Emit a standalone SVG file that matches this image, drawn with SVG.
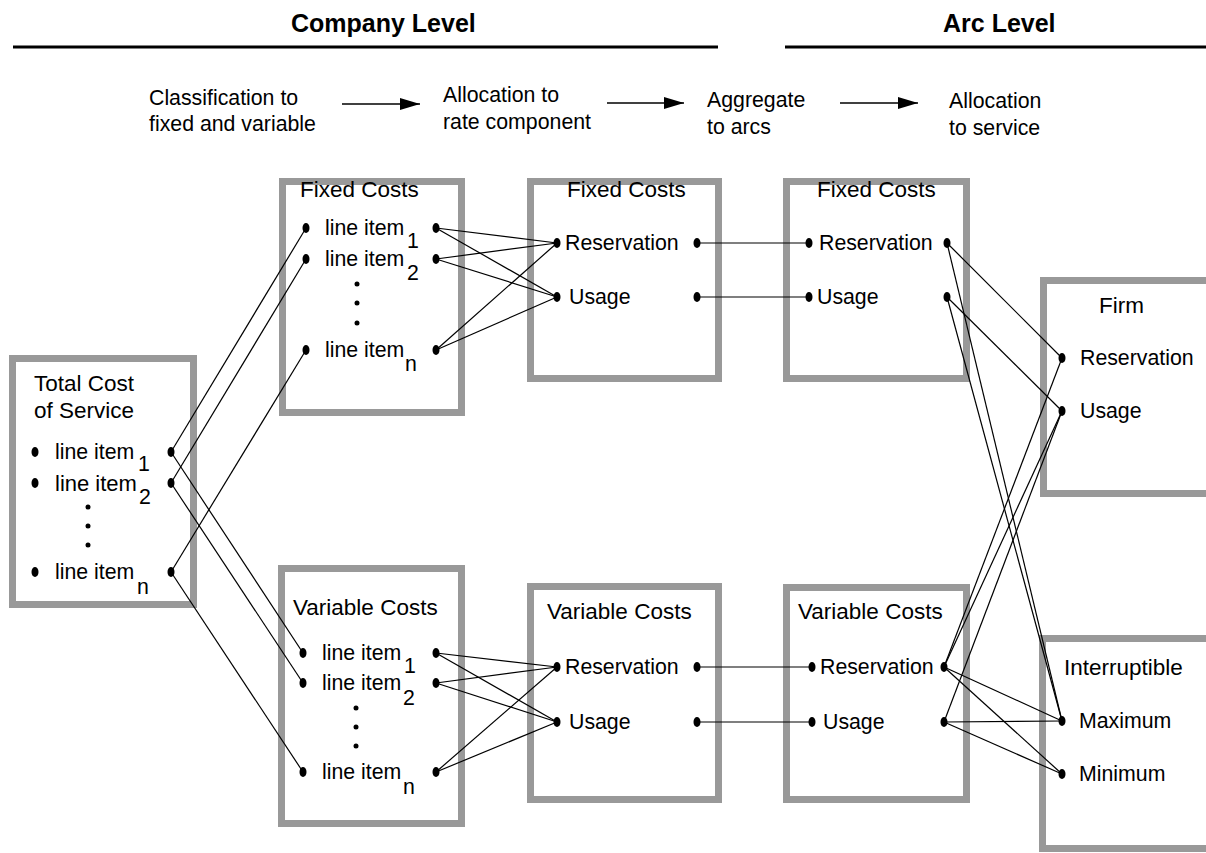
<svg xmlns="http://www.w3.org/2000/svg" width="1206" height="853" viewBox="0 0 1206 853">
<defs>
<style>
.bg{fill:#fff}
.box{fill:#fff;stroke:#999;stroke-width:7}
.t{font-family:"Liberation Sans",Arial,Helvetica,sans-serif;font-size:21.3px;fill:#000}
.ti{font-family:"Liberation Sans",Arial,Helvetica,sans-serif;font-size:22.5px;fill:#000}
.h{font-family:"Liberation Sans",Arial,Helvetica,sans-serif;font-size:25px;font-weight:bold;fill:#000}
.rule{stroke:#000;stroke-width:3}
.c{stroke:#000;stroke-width:1.2;fill:none}
.ar{stroke:#000;stroke-width:1.5;fill:none}
.d{fill:#000}
</style>
<marker id="ah" viewBox="0 0 20 12" refX="20" refY="6" markerWidth="20" markerHeight="12" markerUnits="userSpaceOnUse" orient="auto">
<path d="M0,0 L20,6 L0,12 Z" fill="#000"/>
</marker>
</defs>
<rect class="bg" x="0" y="0" width="1206" height="853"/>

<g id="header">
<text class="h" x="291" y="32">Company Level</text>
<text class="h" x="943" y="32">Arc Level</text>
<line class="rule" x1="13" y1="47" x2="718" y2="47"/>
<line class="rule" x1="785" y1="47" x2="1206" y2="47"/>
</g>

<g id="steps">
<text class="t" x="149" y="105">Classification to</text>
<text class="t" x="149" y="131">fixed and variable</text>
<text class="t" x="443" y="102">Allocation to</text>
<text class="t" x="443" y="129">rate component</text>
<text class="t" x="707" y="107">Aggregate</text>
<text class="t" x="707" y="134">to arcs</text>
<text class="t" x="949" y="108">Allocation</text>
<text class="t" x="949" y="135">to service</text>
<line class="ar" x1="342" y1="104" x2="420" y2="104" marker-end="url(#ah)"/>
<line class="ar" x1="607" y1="103" x2="684" y2="103" marker-end="url(#ah)"/>
<line class="ar" x1="840" y1="103" x2="918" y2="103" marker-end="url(#ah)"/>
</g>

<g id="total-cost">
<rect class="box" x="12.5" y="358.5" width="181" height="246"/>
<text class="ti" x="34" y="391">Total Cost</text>
<text class="ti" x="34" y="418">of Service</text>
<ellipse class="d" cx="35" cy="452" rx="3.5" ry="5"/>
<ellipse class="d" cx="35" cy="483" rx="3.5" ry="5"/>
<ellipse class="d" cx="35" cy="572" rx="3.5" ry="5"/>
<text class="t" x="55" y="459">line item</text><text class="t" x="138" y="471">1</text>
<text class="t" x="55" y="491" style="font-size:22px">line item</text><text class="t" x="139" y="504">2</text>
<text class="t" x="55" y="579">line item</text><text class="t" x="137" y="594">n</text>
<circle class="d" cx="88" cy="507" r="2.5"/>
<circle class="d" cx="88" cy="526" r="2.5"/>
<circle class="d" cx="88" cy="545" r="2.5"/>
<ellipse class="d" cx="171" cy="452" rx="3.5" ry="5"/>
<ellipse class="d" cx="171" cy="483" rx="3.5" ry="5"/>
<ellipse class="d" cx="171" cy="572" rx="3.5" ry="5"/>
</g>

<g id="fixed-company">
<rect class="box" x="282.5" y="181.5" width="179" height="231"/>
<text class="ti" x="300" y="197">Fixed Costs</text>
<ellipse class="d" cx="306" cy="228" rx="3.5" ry="5"/>
<ellipse class="d" cx="306" cy="259" rx="3.5" ry="5"/>
<ellipse class="d" cx="306" cy="350" rx="3.5" ry="5"/>
<text class="t" x="325" y="235">line item</text><text class="t" x="407" y="248">1</text>
<text class="t" x="325" y="266">line item</text><text class="t" x="407" y="280">2</text>
<text class="t" x="325" y="357">line item</text><text class="t" x="405" y="371">n</text>
<circle class="d" cx="357" cy="284" r="2.5"/>
<circle class="d" cx="357" cy="303" r="2.5"/>
<circle class="d" cx="357" cy="323" r="2.5"/>
<ellipse class="d" cx="436" cy="228" rx="3.5" ry="5"/>
<ellipse class="d" cx="436" cy="259" rx="3.5" ry="5"/>
<ellipse class="d" cx="436" cy="350" rx="3.5" ry="5"/>
</g>

<g id="variable-company">
<rect class="box" x="281.5" y="568.5" width="180" height="255"/>
<text class="ti" x="293" y="615">Variable Costs</text>
<ellipse class="d" cx="303" cy="653" rx="3.5" ry="5"/>
<ellipse class="d" cx="303" cy="683" rx="3.5" ry="5"/>
<ellipse class="d" cx="303" cy="772" rx="3.5" ry="5"/>
<text class="t" x="322" y="660">line item</text><text class="t" x="404" y="673">1</text>
<text class="t" x="322" y="690">line item</text><text class="t" x="403" y="705">2</text>
<text class="t" x="322" y="779">line item</text><text class="t" x="403" y="794">n</text>
<circle class="d" cx="356" cy="708" r="2.5"/>
<circle class="d" cx="356" cy="727" r="2.5"/>
<circle class="d" cx="356" cy="746" r="2.5"/>
<ellipse class="d" cx="436" cy="653" rx="3.5" ry="5"/>
<ellipse class="d" cx="436" cy="683" rx="3.5" ry="5"/>
<ellipse class="d" cx="436" cy="772" rx="3.5" ry="5"/>
</g>

<g id="fixed-rate">
<rect class="box" x="530.5" y="181.5" width="188" height="197"/>
<text class="ti" x="567" y="197">Fixed Costs</text>
<ellipse class="d" cx="557" cy="243" rx="3.5" ry="5"/>
<ellipse class="d" cx="557" cy="297" rx="3.5" ry="5"/>
<text class="t" x="565" y="250">Reservation</text>
<text class="t" x="569" y="304">Usage</text>
<ellipse class="d" cx="697" cy="243" rx="3.5" ry="5"/>
<ellipse class="d" cx="697" cy="297" rx="3.5" ry="5"/>
</g>

<g id="variable-rate">
<rect class="box" x="530.5" y="586.5" width="188" height="213"/>
<text class="ti" x="547" y="619">Variable Costs</text>
<ellipse class="d" cx="557" cy="667" rx="3.5" ry="5"/>
<ellipse class="d" cx="557" cy="722" rx="3.5" ry="5"/>
<text class="t" x="565" y="674">Reservation</text>
<text class="t" x="569" y="729">Usage</text>
<ellipse class="d" cx="697" cy="667" rx="3.5" ry="5"/>
<ellipse class="d" cx="697" cy="722" rx="3.5" ry="5"/>
</g>

<g id="fixed-arc">
<rect class="box" x="786.5" y="181.5" width="180" height="197"/>
<text class="ti" x="817" y="197">Fixed Costs</text>
<ellipse class="d" cx="809" cy="243" rx="3.5" ry="5"/>
<ellipse class="d" cx="809" cy="297" rx="3.5" ry="5"/>
<text class="t" x="819" y="250">Reservation</text>
<text class="t" x="817" y="304">Usage</text>
<ellipse class="d" cx="947" cy="243" rx="3.5" ry="5"/>
<ellipse class="d" cx="947" cy="297" rx="3.5" ry="5"/>
</g>

<g id="variable-arc">
<rect class="box" x="786.5" y="587.5" width="180" height="212"/>
<text class="ti" x="798" y="619">Variable Costs</text>
<ellipse class="d" cx="812" cy="667" rx="3.5" ry="5"/>
<ellipse class="d" cx="812" cy="722" rx="3.5" ry="5"/>
<text class="t" x="820" y="674">Reservation</text>
<text class="t" x="823" y="729">Usage</text>
<ellipse class="d" cx="944" cy="667" rx="3.5" ry="5"/>
<ellipse class="d" cx="944" cy="722" rx="3.5" ry="5"/>
</g>

<g id="firm">
<rect class="box" x="1043.5" y="280.5" width="200" height="213"/>
<text class="ti" x="1099" y="313">Firm</text>
<ellipse class="d" cx="1062" cy="358" rx="3.5" ry="5"/>
<ellipse class="d" cx="1062" cy="411" rx="3.5" ry="5"/>
<text class="t" x="1080" y="365">Reservation</text>
<text class="t" x="1080" y="418">Usage</text>
</g>

<g id="interruptible">
<rect class="box" x="1042.5" y="638.5" width="200" height="210"/>
<text class="ti" x="1064" y="675">Interruptible</text>
<ellipse class="d" cx="1062" cy="721" rx="3.5" ry="5"/>
<ellipse class="d" cx="1062" cy="774" rx="3.5" ry="5"/>
<text class="t" x="1079" y="728">Maximum</text>
<text class="t" x="1079" y="781">Minimum</text>
</g>

<g id="connectors">
<line class="c" x1="171" y1="452" x2="306" y2="228"/>
<line class="c" x1="171" y1="483" x2="306" y2="259"/>
<line class="c" x1="171" y1="572" x2="306" y2="350"/>
<line class="c" x1="171" y1="452" x2="303" y2="653"/>
<line class="c" x1="171" y1="483" x2="303" y2="683"/>
<line class="c" x1="171" y1="572" x2="303" y2="772"/>

<line class="c" x1="436" y1="228" x2="557" y2="243"/>
<line class="c" x1="436" y1="228" x2="557" y2="297"/>
<line class="c" x1="436" y1="259" x2="557" y2="243"/>
<line class="c" x1="436" y1="259" x2="557" y2="297"/>
<line class="c" x1="436" y1="350" x2="557" y2="243"/>
<line class="c" x1="436" y1="350" x2="557" y2="297"/>

<line class="c" x1="436" y1="653" x2="557" y2="667"/>
<line class="c" x1="436" y1="653" x2="557" y2="722"/>
<line class="c" x1="436" y1="683" x2="557" y2="667"/>
<line class="c" x1="436" y1="683" x2="557" y2="722"/>
<line class="c" x1="436" y1="772" x2="557" y2="667"/>
<line class="c" x1="436" y1="772" x2="557" y2="722"/>

<line class="c" x1="697" y1="243" x2="809" y2="243"/>
<line class="c" x1="697" y1="297" x2="809" y2="297"/>
<line class="c" x1="697" y1="667" x2="812" y2="667"/>
<line class="c" x1="697" y1="722" x2="812" y2="722"/>

<line class="c" x1="947" y1="243" x2="1062" y2="358"/>
<line class="c" x1="947" y1="243" x2="1062" y2="721"/>
<line class="c" x1="947" y1="297" x2="1062" y2="411"/>
<line class="c" x1="947" y1="297" x2="1062" y2="721"/>

<line class="c" x1="944" y1="667" x2="1062" y2="358"/>
<line class="c" x1="944" y1="667" x2="1062" y2="411"/>
<line class="c" x1="944" y1="667" x2="1062" y2="721"/>
<line class="c" x1="944" y1="667" x2="1062" y2="774"/>
<line class="c" x1="944" y1="722" x2="1062" y2="411"/>
<line class="c" x1="944" y1="722" x2="1062" y2="721"/>
<line class="c" x1="944" y1="722" x2="1062" y2="774"/>
</g>
</svg>
